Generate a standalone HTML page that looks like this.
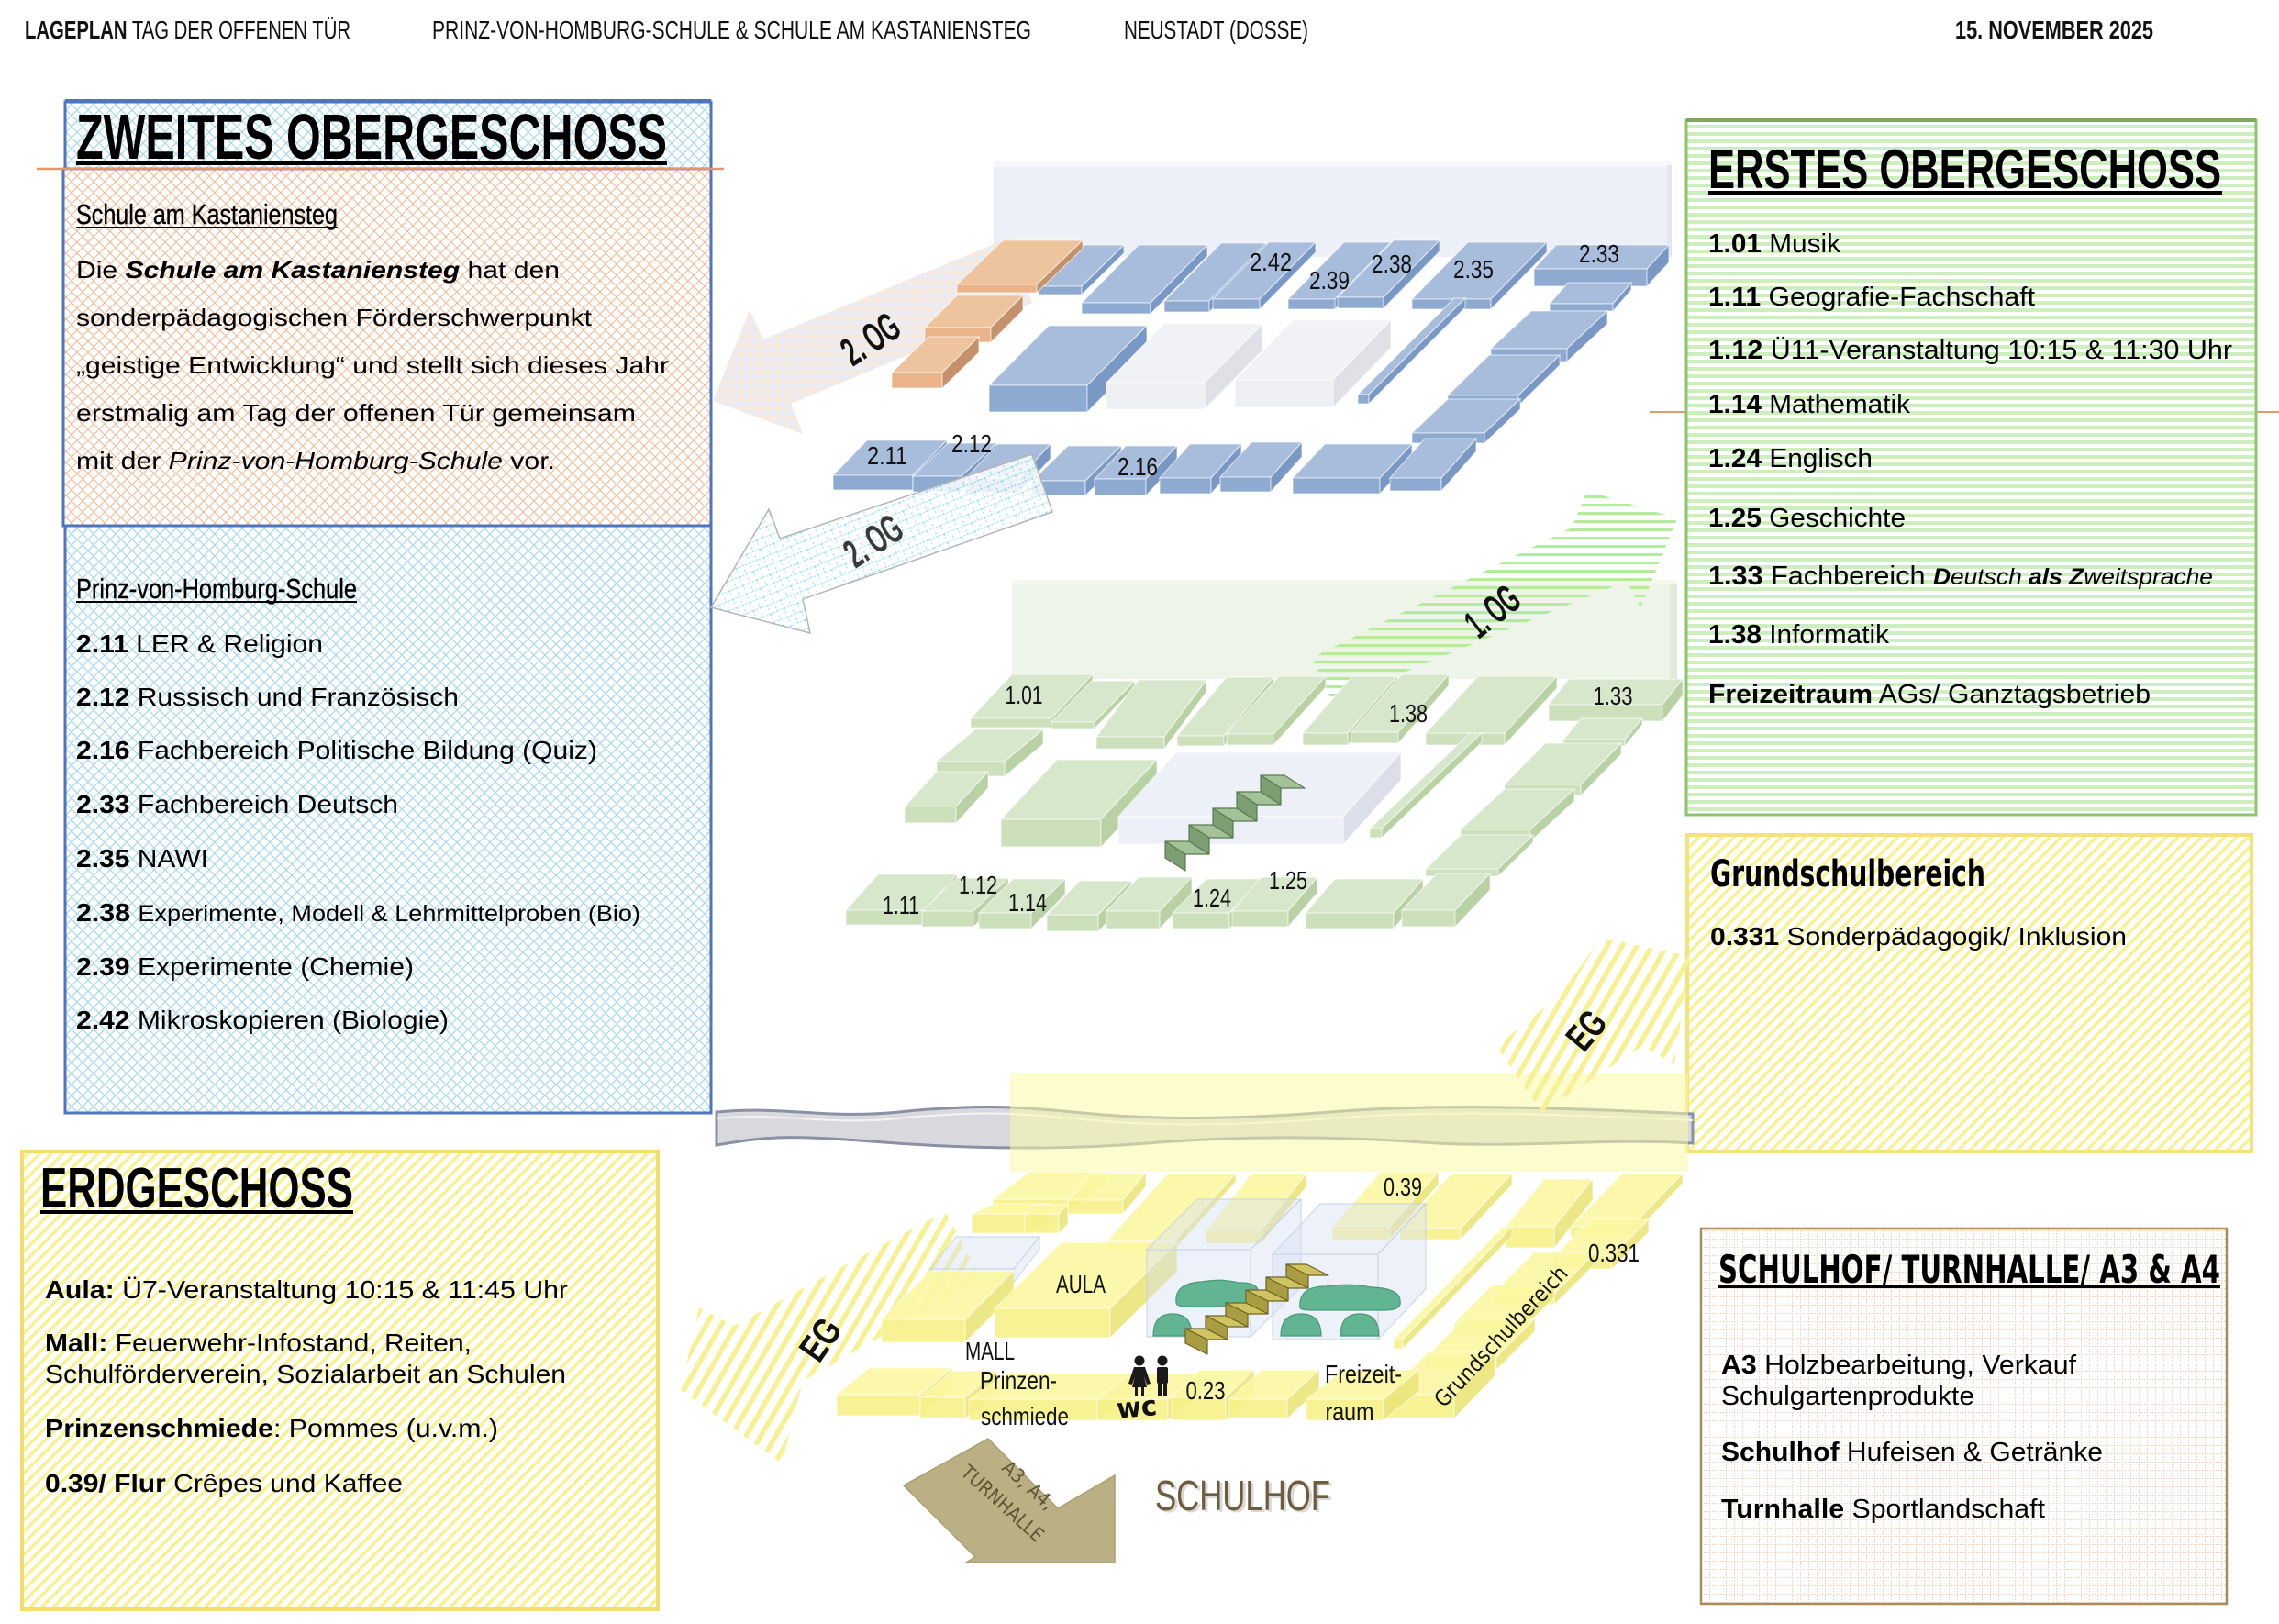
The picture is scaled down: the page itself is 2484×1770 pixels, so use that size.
<!DOCTYPE html>
<html lang="de">
<head>
<meta charset="utf-8">
<title>Lageplan Tag der offenen Tür</title>
<style>
  html,body{margin:0;padding:0;background:#fff;}
  svg{display:block;}
  .cond{font-family:"Liberation Sans Narrow","Liberation Sans",Arial,sans-serif;}
  .sans{font-family:"Liberation Sans",Arial,sans-serif;}
  .dv{font-family:"DejaVu Sans Condensed","DejaVu Sans","Liberation Sans",sans-serif;}
  .r polygon,.r rect{stroke:#ffffff;stroke-opacity:.65;stroke-width:1;}
  .b .t{fill:#a8bddb}.b .f{fill:#8eaad0}.b .s{fill:#7a98c5}
  .w .t{fill:#f1f2f6}.w .f{fill:#eeeff3}.w .s{fill:#dfe1e7}
  .o .t{fill:#eec49f}.o .f{fill:#e9b489}.o .s{fill:#c4916a}
  .g .t{fill:#d7e7cb}.g .f{fill:#cce0bc}.g .s{fill:#b8d1a5}
  .lv .t{fill:#eef0f8}.lv .f{fill:#eceff7}.lv .s{fill:#dcdfea}
  .y{opacity:.9}
  .y .t{fill:#fbf8a2}.y .f{fill:#f7f28a}.y .s{fill:#ebe67b}
  .gl .t,.gl .f,.gl .s{fill:#d6e0f2;fill-opacity:.45;stroke:#c3cfe6;stroke-opacity:.9}
  .lbl{font-family:"Liberation Sans Narrow","Liberation Sans",Arial,sans-serif;font-size:28px;fill:#111;}
  .st polygon{stroke-width:1.2;stroke-linejoin:round}
</style>
</head>
<body>
<svg width="2484" height="1770" viewBox="0 0 2484 1770" xmlns="http://www.w3.org/2000/svg">
<defs>
  <pattern id="bnet" width="12" height="12" patternUnits="userSpaceOnUse">
    <rect width="12" height="12" fill="#fff"/>
    <path d="M0,0 L12,12 M12,0 L0,12" stroke="#a8d9ec" stroke-width="1.2" fill="none"/>
  </pattern>
  <pattern id="onet" width="12" height="12" patternUnits="userSpaceOnUse">
    <rect width="12" height="12" fill="#fff"/>
    <path d="M0,0 L12,12 M12,0 L0,12" stroke="#f1bb96" stroke-width="1.1" fill="none"/>
  </pattern>
  <pattern id="gstripe" width="10" height="8" patternUnits="userSpaceOnUse">
    <rect width="10" height="8" fill="#fff"/>
    <rect width="10" height="4" fill="#cdeebd"/>
  </pattern>
  <pattern id="ystripe" width="9" height="9" patternUnits="userSpaceOnUse" patternTransform="rotate(45)">
    <rect width="9" height="9" fill="#fff"/>
    <rect width="3.4" height="9" fill="#f8f18f"/>
  </pattern>
  <pattern id="grid" width="9" height="9" patternUnits="userSpaceOnUse">
    <rect width="9" height="9" fill="#fff"/>
    <path d="M0,0.5 H9 M0.5,0 V9" stroke="#f1cdb2" stroke-width="1" stroke-dasharray="1.5,1.5" fill="none"/>
  </pattern>
  <pattern id="chk" width="14" height="14" patternUnits="userSpaceOnUse" patternTransform="rotate(45)">
    <rect width="14" height="14" fill="#f8e5d4"/>
    <rect width="7" height="7" fill="#e3e9f5"/>
    <rect x="7" y="7" width="7" height="7" fill="#e3e9f5"/>
  </pattern>
  <pattern id="cnet" width="16" height="10" patternUnits="userSpaceOnUse" patternTransform="rotate(-22)">
    <rect width="16" height="10" fill="#fff"/>
    <path d="M0,5 H16 M8,0 V5 M0,5 V10 M16,5 V10" stroke="#8fdfef" stroke-width="1.3" stroke-dasharray="2,1.5" fill="none"/>
  </pattern>
  <pattern id="gar" width="10" height="9" patternUnits="userSpaceOnUse">
    <rect width="10" height="3.2" fill="#b4eb9c"/>
  </pattern>
  <pattern id="yar" width="14" height="14" patternUnits="userSpaceOnUse" patternTransform="rotate(30)">
    <rect width="5.5" height="14" fill="#f6f294"/>
  </pattern>
</defs>

<!-- ================= HEADER ================= -->
<g class="cond" font-size="28" fill="#111">
  <text x="27" y="42" textLength="355" lengthAdjust="spacingAndGlyphs"><tspan font-weight="bold">LAGEPLAN</tspan> TAG DER OFFENEN TÜR</text>
  <text x="471" y="42" textLength="653" lengthAdjust="spacingAndGlyphs">PRINZ-VON-HOMBURG-SCHULE &amp; SCHULE AM KASTANIENSTEG</text>
  <text x="1225" y="42" textLength="201" lengthAdjust="spacingAndGlyphs">NEUSTADT (DOSSE)</text>
  <text x="2131" y="42" textLength="216" lengthAdjust="spacingAndGlyphs" font-weight="bold">15. NOVEMBER 2025</text>
</g>

<!-- ================= LEFT BLUE BOX (2. OG) ================= -->
<rect x="71" y="111" width="704" height="1102" fill="url(#bnet)" stroke="#4f74c0" stroke-width="3"/>
<line x1="71" y1="110" x2="775" y2="110" stroke="#4f74c0" stroke-width="4"/>
<rect x="69" y="184" width="706" height="389" fill="url(#onet)" stroke="#4f74c0" stroke-width="3"/>
<line x1="40" y1="184" x2="789" y2="184" stroke="#e8956a" stroke-width="2.5"/>

<text class="cond" x="83" y="173" font-size="70" font-weight="bold" fill="#000" textLength="644" lengthAdjust="spacingAndGlyphs">ZWEITES OBERGESCHOSS</text>
<rect x="83" y="176" width="644" height="4" fill="#000"/>

<text class="cond" x="83" y="244" font-size="31" fill="#000" textLength="285" lengthAdjust="spacingAndGlyphs" stroke="#000" stroke-width="0.4">Schule am Kastaniensteg</text>
<rect x="83" y="247" width="285" height="2" fill="#000"/>

<g class="sans" font-size="26" fill="#000">
  <text x="83" y="303" textLength="527" lengthAdjust="spacingAndGlyphs">Die <tspan font-weight="bold" font-style="italic">Schule am Kastaniensteg</tspan> hat den</text>
  <text x="83" y="355" textLength="562" lengthAdjust="spacingAndGlyphs">sonderpädagogischen Förderschwerpunkt</text>
  <text x="83" y="407" textLength="646" lengthAdjust="spacingAndGlyphs">„geistige Entwicklung“ und stellt sich dieses Jahr</text>
  <text x="83" y="459" textLength="610" lengthAdjust="spacingAndGlyphs">erstmalig am Tag der offenen Tür gemeinsam</text>
  <text x="83" y="511" textLength="522" lengthAdjust="spacingAndGlyphs">mit der <tspan font-style="italic">Prinz-von-Homburg-Schule</tspan> vor.</text>
</g>

<text class="cond" x="83" y="652" font-size="31" fill="#000" textLength="306" lengthAdjust="spacingAndGlyphs" stroke="#000" stroke-width="0.4">Prinz-von-Homburg-Schule</text>
<rect x="83" y="655" width="306" height="2" fill="#000"/>

<g class="sans" font-size="28" fill="#000">
  <text x="83" y="711" textLength="269" lengthAdjust="spacingAndGlyphs"><tspan font-weight="bold">2.11</tspan> LER &amp; Religion</text>
  <text x="83" y="769" textLength="417" lengthAdjust="spacingAndGlyphs"><tspan font-weight="bold">2.12</tspan> Russisch und Französisch</text>
  <text x="83" y="827" textLength="568" lengthAdjust="spacingAndGlyphs"><tspan font-weight="bold">2.16</tspan> Fachbereich Politische Bildung (Quiz)</text>
  <text x="83" y="886" textLength="351" lengthAdjust="spacingAndGlyphs"><tspan font-weight="bold">2.33</tspan> Fachbereich Deutsch</text>
  <text x="83" y="945" textLength="144" lengthAdjust="spacingAndGlyphs"><tspan font-weight="bold">2.35</tspan> NAWI</text>
  <text x="83" y="1004" textLength="615" lengthAdjust="spacingAndGlyphs"><tspan font-weight="bold">2.38</tspan> <tspan font-size="25">Experimente, Modell &amp; Lehrmittelproben (Bio)</tspan></text>
  <text x="83" y="1063" textLength="368" lengthAdjust="spacingAndGlyphs"><tspan font-weight="bold">2.39</tspan> Experimente (Chemie)</text>
  <text x="83" y="1121" textLength="406" lengthAdjust="spacingAndGlyphs"><tspan font-weight="bold">2.42</tspan> Mikroskopieren (Biologie)</text>
</g>

<!-- ================= RIGHT GREEN BOX (1. OG) ================= -->
<line x1="1798" y1="449" x2="1838" y2="449" stroke="#e39a6e" stroke-width="2"/>
<line x1="2459" y1="449" x2="2484" y2="449" stroke="#e39a6e" stroke-width="2"/>
<rect x="1838" y="131" width="621" height="757" fill="url(#gstripe)" stroke="#8ec56c" stroke-width="3"/>
<rect x="1838" y="129" width="621" height="4" fill="#7fa860"/>
<text class="cond" x="1862" y="205" font-size="60" font-weight="bold" fill="#000" textLength="559" lengthAdjust="spacingAndGlyphs">ERSTES OBERGESCHOSS</text>
<rect x="1862" y="208" width="560" height="4" fill="#000"/>
<g class="sans" font-size="29" fill="#000">
  <text x="1862" y="275" textLength="144" lengthAdjust="spacingAndGlyphs"><tspan font-weight="bold">1.01</tspan> Musik</text>
  <text x="1862" y="333" textLength="356" lengthAdjust="spacingAndGlyphs"><tspan font-weight="bold">1.11</tspan> Geografie-Fachschaft</text>
  <text x="1862" y="391" textLength="571" lengthAdjust="spacingAndGlyphs"><tspan font-weight="bold">1.12</tspan> Ü11-Veranstaltung 10:15 &amp; 11:30 Uhr</text>
  <text x="1862" y="450" textLength="220" lengthAdjust="spacingAndGlyphs"><tspan font-weight="bold">1.14</tspan> Mathematik</text>
  <text x="1862" y="509" textLength="179" lengthAdjust="spacingAndGlyphs"><tspan font-weight="bold">1.24</tspan> Englisch</text>
  <text x="1862" y="574" textLength="215" lengthAdjust="spacingAndGlyphs"><tspan font-weight="bold">1.25</tspan> Geschichte</text>
  <text x="1862" y="637" textLength="550" lengthAdjust="spacingAndGlyphs"><tspan font-weight="bold">1.33</tspan> Fachbereich <tspan font-style="italic" font-size="25"><tspan font-weight="bold">D</tspan>eutsch <tspan font-weight="bold">als</tspan> <tspan font-weight="bold">Z</tspan>weitsprache</tspan></text>
  <text x="1862" y="701" textLength="197" lengthAdjust="spacingAndGlyphs"><tspan font-weight="bold">1.38</tspan> Informatik</text>
  <text x="1862" y="766" textLength="482" lengthAdjust="spacingAndGlyphs"><tspan font-weight="bold">Freizeitraum</tspan> AGs/ Ganztagsbetrieb</text>
</g>

<!-- ================= GRUNDSCHULBEREICH BOX ================= -->
<rect x="1839" y="910" width="615" height="345" fill="url(#ystripe)" stroke="#f6e27a" stroke-width="4"/>
<text class="dv" x="1864" y="966" font-size="40" font-weight="bold" fill="#000" textLength="300" lengthAdjust="spacingAndGlyphs">Grundschulbereich</text>
<text class="sans" x="1864" y="1030" font-size="28" fill="#000" textLength="454" lengthAdjust="spacingAndGlyphs"><tspan font-weight="bold">0.331</tspan> Sonderpädagogik/ Inklusion</text>

<!-- ================= SCHULHOF BOX ================= -->
<rect x="1854" y="1339" width="573" height="409" fill="url(#grid)" stroke="#a88c5c" stroke-width="2.5"/>
<text class="dv" x="1873" y="1398" font-size="42" font-weight="bold" fill="#000" textLength="547" lengthAdjust="spacingAndGlyphs">SCHULHOF/ TURNHALLE/ A3 &amp; A4</text>
<rect x="1873" y="1401" width="547" height="3" fill="#000"/>
<g class="sans" font-size="29" fill="#000">
  <text x="1876" y="1497" textLength="387" lengthAdjust="spacingAndGlyphs"><tspan font-weight="bold">A3</tspan> Holzbearbeitung, Verkauf</text>
  <text x="1876" y="1531" textLength="276" lengthAdjust="spacingAndGlyphs">Schulgartenprodukte</text>
  <text x="1876" y="1592" textLength="416" lengthAdjust="spacingAndGlyphs"><tspan font-weight="bold">Schulhof</tspan> Hufeisen &amp; Getränke</text>
  <text x="1876" y="1654" textLength="353" lengthAdjust="spacingAndGlyphs"><tspan font-weight="bold">Turnhalle</tspan> Sportlandschaft</text>
</g>

<!-- ================= ERDGESCHOSS BOX ================= -->
<rect x="24" y="1255" width="693" height="499" fill="url(#ystripe)" stroke="#f5dc6e" stroke-width="4"/>
<text class="cond" x="44" y="1316" font-size="62" font-weight="bold" fill="#000" textLength="341" lengthAdjust="spacingAndGlyphs">ERDGESCHOSS</text>
<rect x="44" y="1319" width="341" height="4" fill="#000"/>
<g class="sans" font-size="28" fill="#000">
  <text x="49" y="1415" textLength="570" lengthAdjust="spacingAndGlyphs"><tspan font-weight="bold">Aula:</tspan> Ü7-Veranstaltung 10:15 &amp; 11:45 Uhr</text>
  <text x="49" y="1473" textLength="465" lengthAdjust="spacingAndGlyphs"><tspan font-weight="bold">Mall:</tspan> Feuerwehr-Infostand, Reiten,</text>
  <text x="49" y="1507" textLength="568" lengthAdjust="spacingAndGlyphs">Schulförderverein, Sozialarbeit an Schulen</text>
  <text x="49" y="1566" textLength="494" lengthAdjust="spacingAndGlyphs"><tspan font-weight="bold">Prinzenschmiede</tspan>: Pommes (u.v.m.)</text>
  <text x="49" y="1626" textLength="390" lengthAdjust="spacingAndGlyphs"><tspan font-weight="bold">0.39/ Flur</tspan> Crêpes und Kaffee</text>
</g>

<!-- ================= 2. OG FLOOR ================= -->
<rect x="1083" y="176" width="739" height="104" fill="#edf0f8"/>
<rect x="1083" y="176" width="739" height="6" fill="#f5f7fb"/>
<rect x="1817" y="180" width="5" height="100" fill="#e2e6f0"/>

<!-- orange/blue checker arrow -->
<polygon points="777,437 817,338 832,370 1103,258 1125,330 862,440 875,473" fill="url(#chk)" opacity="0.85"/>

<!-- top row -->
<g class="r b" transform="translate(1132,312)"><polygon class="t" points="0,0 47,0 93,-45 46,-45"/><rect class="f" width="47" height="9"/><polygon class="s" points="47,0 93,-45 93,-36 47,9"/></g>
<g class="r b" transform="translate(1179,330)"><polygon class="t" points="0,0 75,0 137,-63 62,-63"/><rect class="f" width="75" height="12"/><polygon class="s" points="75,0 137,-63 137,-51 75,12"/></g>
<g class="r b" transform="translate(1269,328)"><polygon class="t" points="0,0 49,0 111,-63 62,-63"/><rect class="f" width="49" height="12"/><polygon class="s" points="49,0 111,-63 111,-51 49,12"/></g>
<g class="r b" transform="translate(1322,326)"><polygon class="t" points="0,0 51,0 112,-62 61,-62"/><rect class="f" width="51" height="11"/><polygon class="s" points="51,0 112,-62 112,-51 51,11"/></g>
<g class="r b" transform="translate(1404,326)"><polygon class="t" points="0,0 51,0 112,-62 61,-62"/><rect class="f" width="51" height="11"/><polygon class="s" points="51,0 112,-62 112,-51 51,11"/></g>
<g class="r b" transform="translate(1458,324)"><polygon class="t" points="0,0 50,0 111,-62 61,-62"/><rect class="f" width="50" height="12"/><polygon class="s" points="50,0 111,-62 111,-50 50,12"/></g>
<g class="r b" transform="translate(1539,326)"><polygon class="t" points="0,0 86,0 147,-62 61,-62"/><rect class="f" width="86" height="11"/><polygon class="s" points="86,0 147,-62 147,-51 86,11"/></g>
<g class="r b" transform="translate(1672,293)"><polygon class="t" points="0,0 123,0 147,-26 24,-26"/><rect class="f" width="123" height="19"/><polygon class="s" points="123,0 147,-26 147,-7 123,19"/></g>
<g class="r b" transform="translate(1689,331)"><polygon class="t" points="0,0 69,0 89,-23 20,-23"/><rect class="f" width="69" height="8"/><polygon class="s" points="69,0 89,-23 89,-15 69,8"/></g>
<!-- right column -->
<g class="r b" transform="translate(1625,380)"><polygon class="t" points="0,0 83,0 127,-41 44,-41"/><rect class="f" width="83" height="14"/><polygon class="s" points="83,0 127,-41 127,-27 83,14"/></g>
<g class="r b" transform="translate(1578,431)"><polygon class="t" points="0,0 77,0 122,-44 45,-44"/><rect class="f" width="77" height="11"/><polygon class="s" points="77,0 122,-44 122,-33 77,11"/></g>
<g class="r b" transform="translate(1539,472)"><polygon class="t" points="0,0 79,0 118,-37 39,-37"/><rect class="f" width="79" height="11"/><polygon class="s" points="79,0 118,-37 118,-26 79,11"/></g>
<!-- middle -->
<g class="r b" transform="translate(1078,420)"><polygon class="t" points="0,0 107,0 172,-65 65,-65"/><rect class="f" width="107" height="29"/><polygon class="s" points="107,0 172,-65 172,-36 107,29"/></g>
<g class="r w" transform="translate(1206,417)"><polygon class="t" points="0,0 107,0 170,-64 63,-64"/><rect class="f" width="107" height="29"/><polygon class="s" points="107,0 170,-64 170,-35 107,29"/></g>
<g class="r w" transform="translate(1346,414)"><polygon class="t" points="0,0 107,0 170,-65 63,-65"/><rect class="f" width="107" height="30"/><polygon class="s" points="107,0 170,-65 170,-35 107,30"/></g>
<g class="r b" transform="translate(1480,430)"><polygon class="t" points="0,0 12,0 117,-105 105,-105"/><rect class="f" width="12" height="10"/><polygon class="s" points="12,0 117,-105 117,-95 12,10"/></g>
<!-- orange rooms -->
<g class="r o" transform="translate(1043,310)"><polygon class="t" points="0,0 87,0 137,-48 50,-48"/><rect class="f" width="87" height="9"/><polygon class="s" points="87,0 137,-48 137,-39 87,9"/></g>
<g class="r o" transform="translate(1008,357)"><polygon class="t" points="0,0 72,0 107,-35 35,-35"/><rect class="f" width="72" height="16"/><polygon class="s" points="72,0 107,-35 107,-19 72,16"/></g>
<g class="r o" transform="translate(972,406)"><polygon class="t" points="0,0 55,0 95,-39 40,-39"/><rect class="f" width="55" height="17"/><polygon class="s" points="55,0 95,-39 95,-22 55,17"/></g>
<!-- bottom row -->
<g class="r b" transform="translate(908,518)"><polygon class="t" points="0,0 87,0 124,-38 37,-38"/><rect class="f" width="87" height="16"/><polygon class="s" points="87,0 124,-38 124,-22 87,16"/></g>
<g class="r b" transform="translate(995,519)"><polygon class="t" points="0,0 53,0 91,-36 38,-36"/><rect class="f" width="53" height="17"/><polygon class="s" points="53,0 91,-36 91,-19 53,17"/></g>
<g class="r b" transform="translate(1053,521)"><polygon class="t" points="0,0 58,0 92,-37 34,-37"/><rect class="f" width="58" height="16"/><polygon class="s" points="58,0 92,-37 92,-21 58,16"/></g>
<g class="r b" transform="translate(1125,524)"><polygon class="t" points="0,0 58,0 97,-38 39,-38"/><rect class="f" width="58" height="16"/><polygon class="s" points="58,0 97,-38 97,-22 58,16"/></g>
<g class="r b" transform="translate(1193,522)"><polygon class="t" points="0,0 56,0 90,-36 34,-36"/><rect class="f" width="56" height="18"/><polygon class="s" points="56,0 90,-36 90,-18 56,18"/></g>
<g class="r b" transform="translate(1264,521)"><polygon class="t" points="0,0 56,0 89,-37 33,-37"/><rect class="f" width="56" height="17"/><polygon class="s" points="56,0 89,-37 89,-20 56,17"/></g>
<g class="r b" transform="translate(1330,520)"><polygon class="t" points="0,0 55,0 89,-38 34,-38"/><rect class="f" width="55" height="16"/><polygon class="s" points="55,0 89,-38 89,-22 55,16"/></g>
<g class="r b" transform="translate(1409,521)"><polygon class="t" points="0,0 95,0 130,-37 35,-37"/><rect class="f" width="95" height="17"/><polygon class="s" points="95,0 130,-37 130,-20 95,17"/></g>
<g class="r b" transform="translate(1515,521)"><polygon class="t" points="0,0 56,0 94,-43 38,-43"/><rect class="f" width="56" height="14"/><polygon class="s" points="56,0 94,-43 94,-29 56,14"/></g>

<!-- cyan arrow -->
<polygon points="775,662 838,555 850,587 1125,495 1147,558 875,653 883,690" fill="url(#cnet)" fill-opacity="0.85" stroke="#b5b5b5" stroke-width="1.5"/>

<!-- 2.OG labels -->
<g class="lbl" text-anchor="middle" font-size="30">
  <text x="1385" y="295" textLength="46" lengthAdjust="spacingAndGlyphs">2.42</text>
  <text x="1449" y="315" textLength="44" lengthAdjust="spacingAndGlyphs">2.39</text>
  <text x="1517" y="297" textLength="44" lengthAdjust="spacingAndGlyphs">2.38</text>
  <text x="1606" y="303" textLength="44" lengthAdjust="spacingAndGlyphs">2.35</text>
  <text x="1743" y="286" textLength="44" lengthAdjust="spacingAndGlyphs">2.33</text>
  <text x="967" y="506" textLength="44" lengthAdjust="spacingAndGlyphs">2.11</text>
  <text x="1059" y="493" textLength="44" lengthAdjust="spacingAndGlyphs">2.12</text>
  <text x="1240" y="518" textLength="44" lengthAdjust="spacingAndGlyphs">2.16</text>
</g>
<text class="cond" x="0" y="0" font-size="44" font-weight="bold" fill="#111" text-anchor="middle" textLength="66" lengthAdjust="spacingAndGlyphs" transform="translate(957,382) rotate(-33)">2. OG</text>
<text class="cond" x="0" y="0" font-size="44" font-weight="bold" fill="#3a3a3a" text-anchor="middle" textLength="66" lengthAdjust="spacingAndGlyphs" transform="translate(960,602) rotate(-33)">2. OG</text>

<!-- ================= 1. OG FLOOR ================= -->
<rect x="1103" y="632" width="725" height="108" fill="#eef5e8"/>
<rect x="1103" y="632" width="725" height="5" fill="#f4f9f0"/>
<rect x="1820" y="636" width="8" height="104" fill="#e3e9dd"/>

<!-- green striped arrow -->
<polygon points="1430,717 1713,575 1730,535 1828,565 1788,663 1773,633 1452,765" fill="url(#gar)"/>

<!-- rooms -->
<g class="r g" transform="translate(1058,783)"><polygon class="t" points="0,0 88,0 133,-48 45,-48"/><rect class="f" width="88" height="10"/><polygon class="s" points="88,0 133,-48 133,-38 88,10"/></g>
<g class="r g" transform="translate(1146,787)"><polygon class="t" points="0,0 47,0 91,-45 44,-45"/><rect class="f" width="47" height="7"/><polygon class="s" points="47,0 91,-45 91,-38 47,7"/></g>
<g class="r g" transform="translate(1195,803)"><polygon class="t" points="0,0 74,0 120,-62 46,-62"/><rect class="f" width="74" height="13"/><polygon class="s" points="74,0 120,-62 120,-49 74,13"/></g>
<g class="r g" transform="translate(1283,802)"><polygon class="t" points="0,0 51,0 105,-64 54,-64"/><rect class="f" width="51" height="11"/><polygon class="s" points="51,0 105,-64 105,-53 51,11"/></g>
<g class="r g" transform="translate(1337,800)"><polygon class="t" points="0,0 51,0 108,-63 57,-63"/><rect class="f" width="51" height="12"/><polygon class="s" points="51,0 108,-63 108,-51 51,12"/></g>
<g class="r g" transform="translate(1420,799)"><polygon class="t" points="0,0 49,0 103,-62 54,-62"/><rect class="f" width="49" height="13"/><polygon class="s" points="49,0 103,-62 103,-49 49,13"/></g>
<g class="r g" transform="translate(1473,798)"><polygon class="t" points="0,0 51,0 106,-63 55,-63"/><rect class="f" width="51" height="12"/><polygon class="s" points="51,0 106,-63 106,-51 51,12"/></g>
<g class="r g" transform="translate(1554,799)"><polygon class="t" points="0,0 86,0 143,-62 57,-62"/><rect class="f" width="86" height="13"/><polygon class="s" points="86,0 143,-62 143,-49 86,13"/></g>
<g class="r g" transform="translate(1688,768)"><polygon class="t" points="0,0 124,0 146,-28 22,-28"/><rect class="f" width="124" height="18"/><polygon class="s" points="124,0 146,-28 146,-10 124,18"/></g>
<g class="r g" transform="translate(1704,806)"><polygon class="t" points="0,0 67,0 86,-23 19,-23"/><rect class="f" width="67" height="7"/><polygon class="s" points="67,0 86,-23 86,-16 67,7"/></g>
<g class="r g" transform="translate(1640,855)"><polygon class="t" points="0,0 83,0 127,-45 44,-45"/><rect class="f" width="83" height="12"/><polygon class="s" points="83,0 127,-45 127,-33 83,12"/></g>
<g class="r g" transform="translate(1592,904)"><polygon class="t" points="0,0 76,0 124,-44 48,-44"/><rect class="f" width="76" height="13"/><polygon class="s" points="76,0 124,-44 124,-31 76,13"/></g>
<g class="r g" transform="translate(1554,947)"><polygon class="t" points="0,0 79,0 117,-37 38,-37"/><rect class="f" width="79" height="8"/><polygon class="s" points="79,0 117,-37 117,-29 79,8"/></g>
<g class="r g" transform="translate(1021,830)"><polygon class="t" points="0,0 74,0 116,-35 42,-35"/><rect class="f" width="74" height="16"/><polygon class="s" points="74,0 116,-35 116,-19 74,16"/></g>
<g class="r g" transform="translate(986,879)"><polygon class="t" points="0,0 56,0 91,-38 35,-38"/><rect class="f" width="56" height="18"/><polygon class="s" points="56,0 91,-38 91,-20 56,18"/></g>
<g class="r g" transform="translate(1091,893)"><polygon class="t" points="0,0 109,0 170,-65 61,-65"/><rect class="f" width="109" height="30"/><polygon class="s" points="109,0 170,-65 170,-35 109,30"/></g>
<g class="r lv" transform="translate(1219,890)"><polygon class="t" points="0,0 245,0 308,-70 63,-70"/><rect class="f" width="245" height="30"/><polygon class="s" points="245,0 308,-70 308,-40 245,30"/></g>
<g class="r g" transform="translate(1493,903)"><polygon class="t" points="0,0 13,0 122,-104 109,-104"/><rect class="f" width="13" height="10"/><polygon class="s" points="13,0 122,-104 122,-94 13,10"/></g>

<!-- green 3D stairs (top step first) -->
<g class="st" stroke="#5b7a53">
  <polygon points="1374,845 1400,845 1422,859 1396,859" fill="#a3c297"/>
  <polygon points="1374,863 1374,845 1396,859 1396,877" fill="#7d9e72"/>
  <polygon points="1348,863 1374,863 1396,877 1370,877" fill="#a3c297"/>
  <polygon points="1348,881 1348,863 1370,877 1370,895" fill="#7d9e72"/>
  <polygon points="1322,881 1348,881 1370,895 1344,895" fill="#a3c297"/>
  <polygon points="1322,899 1322,881 1344,895 1344,913" fill="#7d9e72"/>
  <polygon points="1296,899 1322,899 1344,913 1318,913" fill="#a3c297"/>
  <polygon points="1296,917 1296,899 1318,913 1318,931" fill="#7d9e72"/>
  <polygon points="1270,917 1296,917 1318,931 1292,931" fill="#a3c297"/>
  <polygon points="1270,935 1270,917 1292,931 1292,949" fill="#7d9e72"/>
</g>

<!-- bottom row -->
<g class="r g" transform="translate(922,992)"><polygon class="t" points="0,0 86,0 121,-39 35,-39"/><rect class="f" width="86" height="16"/><polygon class="s" points="86,0 121,-39 121,-23 86,16"/></g>
<g class="r g" transform="translate(1005,993)"><polygon class="t" points="0,0 56,0 94,-36 38,-36"/><rect class="f" width="56" height="17"/><polygon class="s" points="56,0 94,-36 94,-19 56,17"/></g>
<g class="r g" transform="translate(1067,995)"><polygon class="t" points="0,0 57,0 94,-37 37,-37"/><rect class="f" width="57" height="17"/><polygon class="s" points="57,0 94,-37 94,-20 57,17"/></g>
<g class="r g" transform="translate(1141,997)"><polygon class="t" points="0,0 56,0 92,-37 36,-37"/><rect class="f" width="56" height="18"/><polygon class="s" points="56,0 92,-37 92,-19 56,18"/></g>
<g class="r g" transform="translate(1206,993)"><polygon class="t" points="0,0 58,0 93,-37 35,-37"/><rect class="f" width="58" height="19"/><polygon class="s" points="58,0 93,-37 93,-18 58,19"/></g>
<g class="r g" transform="translate(1278,995)"><polygon class="t" points="0,0 62,0 99,-37 37,-37"/><rect class="f" width="62" height="17"/><polygon class="s" points="62,0 99,-37 99,-20 62,17"/></g>
<g class="r g" transform="translate(1343,993)"><polygon class="t" points="0,0 61,0 93,-37 32,-37"/><rect class="f" width="61" height="17"/><polygon class="s" points="61,0 93,-37 93,-20 61,17"/></g>
<g class="r g" transform="translate(1423,995)"><polygon class="t" points="0,0 96,0 128,-37 32,-37"/><rect class="f" width="96" height="17"/><polygon class="s" points="96,0 128,-37 128,-20 96,17"/></g>
<g class="r g" transform="translate(1528,992)"><polygon class="t" points="0,0 58,0 96,-40 38,-40"/><rect class="f" width="58" height="18"/><polygon class="s" points="58,0 96,-40 96,-22 58,18"/></g>

<!-- 1.OG labels -->
<g class="lbl" text-anchor="middle" font-size="27">
  <text x="1116" y="767" textLength="41" lengthAdjust="spacingAndGlyphs">1.01</text>
  <text x="1535" y="787" textLength="42" lengthAdjust="spacingAndGlyphs">1.38</text>
  <text x="1758" y="768" textLength="43" lengthAdjust="spacingAndGlyphs">1.33</text>
  <text x="982" y="996" textLength="40" lengthAdjust="spacingAndGlyphs">1.11</text>
  <text x="1066" y="974" textLength="42" lengthAdjust="spacingAndGlyphs">1.12</text>
  <text x="1120" y="993" textLength="42" lengthAdjust="spacingAndGlyphs">1.14</text>
  <text x="1321" y="988" textLength="42" lengthAdjust="spacingAndGlyphs">1.24</text>
  <text x="1404" y="969" textLength="42" lengthAdjust="spacingAndGlyphs">1.25</text>
</g>
<text class="cond" x="0" y="0" font-size="44" font-weight="bold" fill="#111" text-anchor="middle" textLength="62" lengthAdjust="spacingAndGlyphs" transform="translate(1636,678) rotate(-38)">1. OG</text>

<!-- ================= ERDGESCHOSS FLOOR ================= -->
<!-- wavy band -->
<path d="M781,1212 C850,1205 900,1220 980,1212 S1100,1205 1180,1213 S1350,1220 1450,1212 S1650,1205 1845,1214 L1845,1246 C1750,1240 1650,1252 1550,1245 S1350,1238 1250,1246 S1050,1252 950,1244 S830,1240 781,1248 Z" fill="#d9d9dd" stroke="#8a90a6" stroke-width="3"/>
<path d="M781,1219 C850,1212 900,1227 980,1219 S1100,1212 1180,1220 S1350,1227 1450,1219 S1650,1212 1845,1221" fill="none" stroke="#f4f4f6" stroke-width="2"/>
<rect x="1101" y="1169" width="739" height="108" fill="#fafaa8" opacity="0.55"/>

<!-- yellow arrows -->
<polygon points="1631,1140 1700,1085 1745,1022 1842,1042 1825,1160 1790,1140 1680,1212" fill="url(#yar)"/>
<polygon points="742,1515 762,1425 800,1445 1030,1320 1070,1395 875,1505 852,1595" fill="url(#yar)"/>

<!-- rooms -->
<g class="r y" transform="translate(1082,1307)"><polygon class="t" points="0,0 82,0 122,-30 40,-30"/><rect class="f" width="82" height="14"/><polygon class="s" points="82,0 122,-30 122,-16 82,14"/></g>
<g class="r y" transform="translate(1164,1308)"><polygon class="t" points="0,0 60,0 85,-30 25,-30"/><rect class="f" width="60" height="15"/><polygon class="s" points="60,0 85,-30 85,-15 60,15"/></g>
<g class="r y" transform="translate(1059,1323)"><polygon class="t" points="0,0 60,0 85,-11 25,-11"/><rect class="f" width="60" height="21"/><polygon class="s" points="60,0 85,-11 85,10 60,21"/></g>
<g class="r y" transform="translate(1117,1323)"><polygon class="t" points="0,0 37,0 47,-10 10,-10"/><rect class="f" width="37" height="21"/><polygon class="s" points="37,0 47,-10 47,11 37,21"/></g>
<g class="r y" transform="translate(1206,1353)"><polygon class="t" points="0,0 74,0 141,-74 67,-74"/><rect class="f" width="74" height="9"/><polygon class="s" points="74,0 141,-74 141,-65 74,9"/></g>
<g class="r y" transform="translate(1315,1341)"><polygon class="t" points="0,0 60,0 109,-62 49,-62"/><rect class="f" width="60" height="14"/><polygon class="s" points="60,0 109,-62 109,-48 60,14"/></g>
<g class="r y" transform="translate(1452,1337)"><polygon class="t" points="0,0 63,0 116,-60 53,-60"/><rect class="f" width="63" height="14"/><polygon class="s" points="63,0 116,-60 116,-46 63,14"/></g>
<g class="r y" transform="translate(1526,1339)"><polygon class="t" points="0,0 66,0 122,-60 56,-60"/><rect class="f" width="66" height="12"/><polygon class="s" points="66,0 122,-60 122,-48 66,12"/></g>
<g class="r y" transform="translate(1641,1337)"><polygon class="t" points="0,0 53,0 95,-52 42,-52"/><rect class="f" width="53" height="23"/><polygon class="s" points="53,0 95,-52 95,-29 53,23"/></g>
<g class="r y" transform="translate(1712,1337)"><polygon class="t" points="0,0 66,0 122,-58 56,-58"/><rect class="f" width="66" height="11"/><polygon class="s" points="66,0 122,-58 122,-47 66,11"/></g>
<g class="r y" transform="translate(1694,1369)"><polygon class="t" points="0,0 63,0 103,-40 40,-40"/><rect class="f" width="63" height="14"/><polygon class="s" points="63,0 103,-40 103,-26 63,14"/></g>
<g class="r y" transform="translate(1627,1410)"><polygon class="t" points="0,0 67,0 112,-45 45,-45"/><rect class="f" width="67" height="12"/><polygon class="s" points="67,0 112,-45 112,-33 67,12"/></g>
<g class="r y" transform="translate(1585,1442)"><polygon class="t" points="0,0 67,0 109,-42 42,-42"/><rect class="f" width="67" height="14"/><polygon class="s" points="67,0 109,-42 109,-28 67,14"/></g>
<g class="r y" transform="translate(1554,1479)"><polygon class="t" points="0,0 77,0 119,-42 42,-42"/><rect class="f" width="77" height="14"/><polygon class="s" points="77,0 119,-42 119,-28 77,14"/></g>
<g class="r y" transform="translate(1512,1520)"><polygon class="t" points="0,0 73,0 117,-46 44,-46"/><rect class="f" width="73" height="26"/><polygon class="s" points="73,0 117,-46 117,-20 73,26"/></g>
<g class="r gl" transform="translate(1014,1383)"><polygon class="t" points="0,0 91,0 119,-35 28,-35"/><rect class="f" width="91" height="14"/><polygon class="s" points="91,0 119,-35 119,-21 91,14"/></g>
<g class="r y" transform="translate(961,1438)"><polygon class="t" points="0,0 91,0 144,-53 53,-53"/><rect class="f" width="91" height="25"/><polygon class="s" points="91,0 144,-53 144,-28 91,25"/></g>
<g class="r y" transform="translate(1084,1426)"><polygon class="t" points="0,0 126,0 199,-72 73,-72"/><rect class="f" width="126" height="32"/><polygon class="s" points="126,0 199,-72 199,-40 126,32"/></g>
<g class="r y" transform="translate(1519,1460)"><polygon class="t" points="0,0 10,0 129,-123 119,-123"/><rect class="f" width="10" height="10"/><polygon class="s" points="10,0 129,-123 129,-113 10,10"/></g>

<!-- glass cubes -->
<g class="r gl" transform="translate(1250,1362)"><polygon class="t" points="0,0 113,0 168,-55 55,-55"/><rect class="f" width="113" height="95"/><polygon class="s" points="113,0 168,-55 168,40 113,95"/></g>
<g class="r gl" transform="translate(1387,1367)"><polygon class="t" points="0,0 115,0 167,-55 52,-55"/><rect class="f" width="115" height="93"/><polygon class="s" points="115,0 167,-55 167,38 115,93"/></g>
<!-- bushes -->
<g fill="#62b592" stroke="#4a9a76" stroke-width="1.2">
  <path d="M1282,1420 Q1280,1398 1310,1397 Q1330,1393 1350,1398 Q1372,1397 1372,1410 Q1376,1422 1360,1424 L1295,1424 Q1282,1424 1282,1420 Z"/>
  <path d="M1417,1425 Q1415,1402 1445,1402 Q1470,1398 1495,1403 Q1526,1404 1526,1418 Q1528,1428 1510,1428 L1430,1428 Q1417,1428 1417,1425 Z"/>
  <path d="M1257,1456 Q1257,1432 1278,1432 Q1299,1432 1299,1456 Z"/>
  <path d="M1396,1456 Q1396,1432 1418,1432 Q1440,1432 1440,1456 Z"/>
  <path d="M1461,1456 Q1461,1432 1482,1432 Q1503,1432 1503,1456 Z"/>
</g>
<!-- olive 3D stairs (top step first) -->
<g class="st" stroke="#6e6428">
  <polygon points="1402,1378 1424,1378 1448,1390 1426,1390" fill="#cfc362"/>
  <polygon points="1402,1392 1402,1378 1426,1390 1426,1404" fill="#a89d40"/>
  <polygon points="1380,1392 1402,1392 1426,1404 1404,1404" fill="#cfc362"/>
  <polygon points="1380,1406 1380,1392 1404,1404 1404,1418" fill="#a89d40"/>
  <polygon points="1358,1406 1380,1406 1404,1418 1382,1418" fill="#cfc362"/>
  <polygon points="1358,1420 1358,1406 1382,1418 1382,1432" fill="#a89d40"/>
  <polygon points="1336,1420 1358,1420 1382,1432 1360,1432" fill="#cfc362"/>
  <polygon points="1336,1434 1336,1420 1360,1432 1360,1446" fill="#a89d40"/>
  <polygon points="1314,1434 1336,1434 1360,1446 1338,1446" fill="#cfc362"/>
  <polygon points="1314,1448 1314,1434 1338,1446 1338,1460" fill="#a89d40"/>
  <polygon points="1292,1448 1314,1448 1338,1460 1316,1460" fill="#cfc362"/>
  <polygon points="1292,1464 1292,1448 1316,1460 1316,1476" fill="#a89d40"/>
</g>

<!-- bottom row -->
<g class="r y" transform="translate(912,1520)"><polygon class="t" points="0,0 91,0 126,-29 35,-29"/><rect class="f" width="91" height="23"/><polygon class="s" points="91,0 126,-29 126,-6 91,23"/></g>
<g class="r y" transform="translate(1003,1523)"><polygon class="t" points="0,0 49,0 84,-29 35,-29"/><rect class="f" width="49" height="23"/><polygon class="s" points="49,0 84,-29 84,-6 49,23"/></g>
<g class="r y" transform="translate(1056,1525)"><polygon class="t" points="0,0 140,0 182,-28 42,-28"/><rect class="f" width="140" height="23"/><polygon class="s" points="140,0 182,-28 182,-5 140,23"/></g>
<g class="r y" transform="translate(1196,1525)"><polygon class="t" points="0,0 77,0 112,-28 35,-28"/><rect class="f" width="77" height="23"/><polygon class="s" points="77,0 112,-28 112,-5 77,23"/></g>
<g class="r y" transform="translate(1277,1523)"><polygon class="t" points="0,0 59,0 90,-30 31,-30"/><rect class="f" width="59" height="25"/><polygon class="s" points="59,0 90,-30 90,-5 59,25"/></g>
<g class="r y" transform="translate(1340,1525)"><polygon class="t" points="0,0 63,0 98,-32 35,-32"/><rect class="f" width="63" height="21"/><polygon class="s" points="63,0 98,-32 98,-11 63,21"/></g>
<g class="r y" transform="translate(1424,1525)"><polygon class="t" points="0,0 84,0 123,-32 39,-32"/><rect class="f" width="84" height="23"/><polygon class="s" points="84,0 123,-32 123,-9 84,23"/></g>

<!-- WC icon -->
<g fill="#1a1a1a">
  <circle cx="1242" cy="1483" r="5.5"/>
  <path d="M1236,1490 L1248,1490 L1254,1508 L1250,1509 L1247,1500 L1250,1512 L1234,1512 L1237,1500 L1234,1509 L1230,1508 Z"/>
  <rect x="1237" y="1512" width="3" height="9"/><rect x="1244" y="1512" width="3" height="9"/>
  <circle cx="1267" cy="1483" r="5.5"/>
  <rect x="1261" y="1490" width="12" height="18" rx="2"/>
  <rect x="1262" y="1506" width="4" height="15"/><rect x="1268" y="1506" width="4" height="15"/>
</g>
<text x="1239" y="1544" font-family="DejaVu Sans, Liberation Sans, sans-serif" font-size="30" font-weight="bold" fill="#111" text-anchor="middle" textLength="44" lengthAdjust="spacingAndGlyphs" transform="rotate(-5 1239 1534)">wc</text>

<!-- EG labels -->
<g class="lbl" text-anchor="middle" font-size="27">
  <text x="1529" y="1303" textLength="42" lengthAdjust="spacingAndGlyphs">0.39</text>
  <text x="1759" y="1375" textLength="56" lengthAdjust="spacingAndGlyphs">0.331</text>
  <text x="1178" y="1409" textLength="54" lengthAdjust="spacingAndGlyphs">AULA</text>
  <text x="1079" y="1482" textLength="54" lengthAdjust="spacingAndGlyphs">MALL</text>
  <text x="1110" y="1514" textLength="84" lengthAdjust="spacingAndGlyphs">Prinzen-</text>
  <text x="1117" y="1553" textLength="96" lengthAdjust="spacingAndGlyphs">schmiede</text>
  <text x="1314" y="1525" textLength="43" lengthAdjust="spacingAndGlyphs">0.23</text>
  <text x="1486" y="1507" textLength="84" lengthAdjust="spacingAndGlyphs">Freizeit-</text>
  <text x="1471" y="1548" textLength="53" lengthAdjust="spacingAndGlyphs">raum</text>
</g>
<text class="dv" x="0" y="0" font-size="24" fill="#111" text-anchor="middle" textLength="200" lengthAdjust="spacingAndGlyphs" transform="translate(1642,1462) rotate(-47)">Grundschulbereich</text>
<text class="cond" x="0" y="0" font-size="42" font-weight="bold" fill="#111" text-anchor="middle" textLength="42" lengthAdjust="spacingAndGlyphs" transform="translate(1740,1132) rotate(-50)">EG</text>
<text class="cond" x="0" y="0" font-size="42" font-weight="bold" fill="#111" text-anchor="middle" textLength="46" lengthAdjust="spacingAndGlyphs" transform="translate(906,1468) rotate(-55)">EG</text>

<!-- brown arrow -->
<polygon points="985,1619 1077,1568 1153,1644 1215,1608 1215,1703 1053,1703 1063,1697" fill="#bbb083" stroke="#a99e70" stroke-width="1.5"/>
<g class="dv" font-size="21" fill="#5e5535" text-anchor="middle">
  <text x="0" y="0" transform="translate(1116,1624) rotate(42)">A3, A4,</text>
  <text x="0" y="0" transform="translate(1088,1644) rotate(42)">TURNHALLE</text>
</g>
<text class="cond" x="1262" y="1648" font-size="46" fill="#d8d8d8" textLength="191" lengthAdjust="spacingAndGlyphs">SCHULHOF</text>
<text class="cond" x="1259" y="1646" font-size="46" fill="#6e5c3c" textLength="191" lengthAdjust="spacingAndGlyphs">SCHULHOF</text>

</svg>
</body>
</html>
